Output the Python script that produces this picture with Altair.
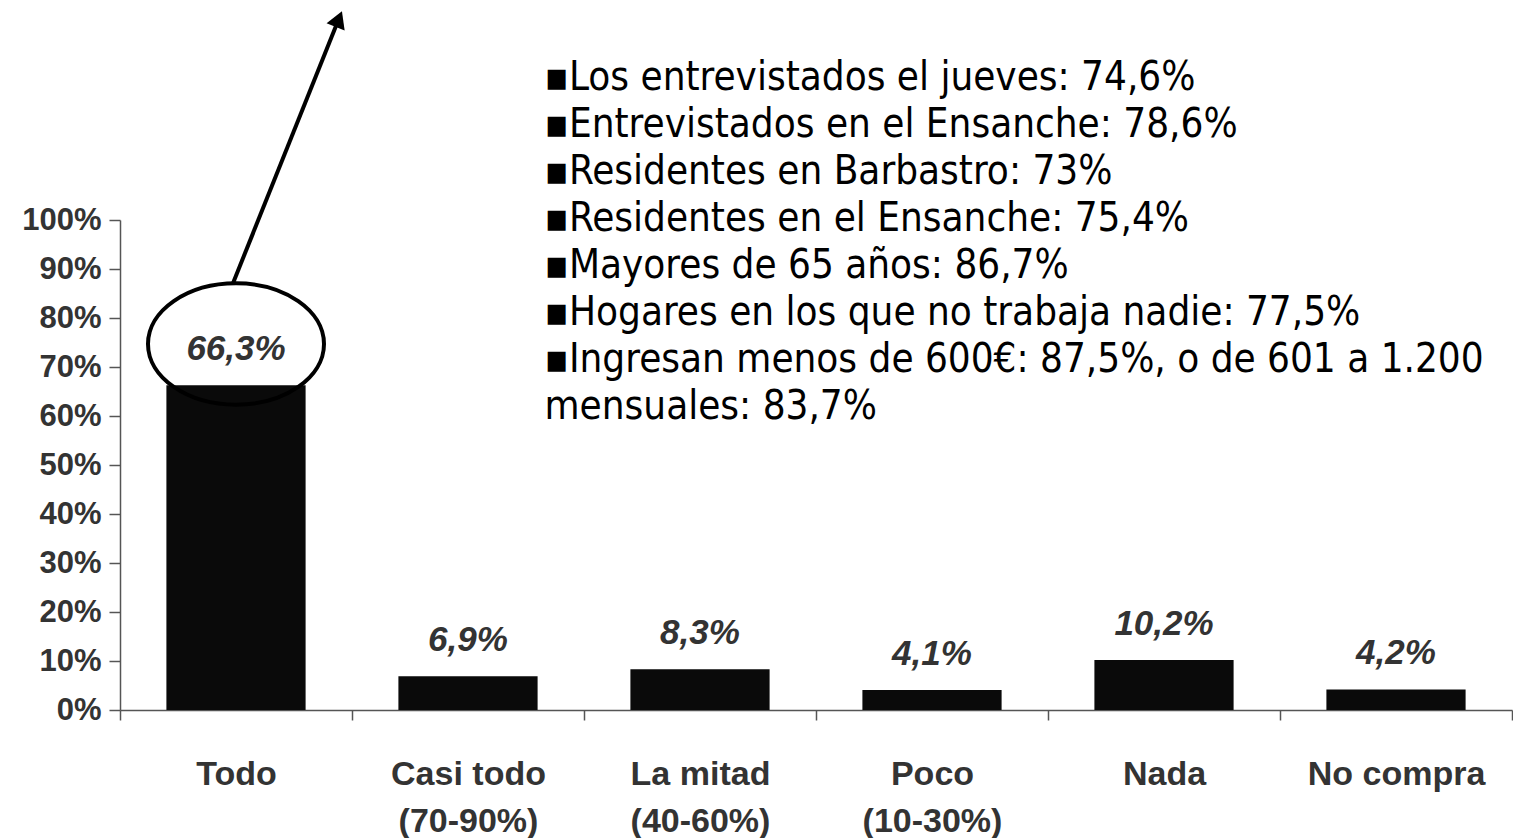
import altair as alt
import pandas as pd

# ---- data ----
categories = ["Todo", "Casi todo (70-90%)", "La mitad (40-60%)", "Poco (10-30%)", "Nada", "No compra"]
values = [0.663, 0.069, 0.083, 0.041, 0.102, 0.042]
y_ticks = [0, 0.1, 0.2, 0.3, 0.4, 0.5, 0.6, 0.7, 0.8, 0.9, 1.0]
notes = [
    "\u25aaLos entrevistados el jueves: 74,6%",
    "\u25aaEntrevistados en el Ensanche: 78,6%",
    "\u25aaResidentes en Barbastro: 73%",
    "\u25aaResidentes en el Ensanche: 75,4%",
    "\u25aaMayores de 65 años: 86,7%",
    "\u25aaHogares en los que no trabaja nadie: 77,5%",
    "\u25aaIngresan menos de 600€: 87,5%, o de 601 a 1.200",
    "mensuales: 83,7%",
]

df = pd.DataFrame({"cat": categories, "val": values})
one = pd.DataFrame({"k": [0]})

xscale = alt.Scale(domain=categories, paddingInner=0, paddingOuter=0)
yscale = alt.Scale(domain=[0, 1])

label_expr = (
    "length(split(datum.value, ' (')) > 1 ? "
    "[split(datum.value, ' (')[0], '(' + split(datum.value, ' (')[1]] : datum.value"
)

x_enc = alt.X(
    "cat:N",
    scale=xscale,
    title=None,
    axis=alt.Axis(
        labelAngle=0,
        tickBand="extent",
        labelExpr=label_expr,
        labelFontSize=34,
        labelLineHeight=47,
        labelPadding=37,
        tickSize=10,
        labelFont="Liberation Sans",
        labelFontWeight="bold",
        labelColor="#333333",
        domainColor="#555555",
        tickColor="#555555",
        domainWidth=1.5,
        tickWidth=1.5,
    ),
)
y_enc = alt.Y(
    "val:Q",
    scale=yscale,
    title=None,
    axis=alt.Axis(
        values=y_ticks,
        format=".0%",
        grid=False,
        labelFontSize=31,
        labelPadding=8,
        tickSize=11,
        labelFont="Liberation Sans",
        labelFontWeight="bold",
        labelColor="#333333",
        domainColor="#555555",
        tickColor="#555555",
        domainWidth=1.5,
        tickWidth=1.5,
    ),
)

bars = alt.Chart(df).mark_bar(
    color="#0a0a0a", width=alt.RelativeBandSize(0.6)
).encode(x=x_enc, y=y_enc)

labels = alt.Chart(df).mark_text(
    baseline="alphabetic", dy=-25, font="Liberation Sans", fontSize=35,
    fontWeight="bold", fontStyle="italic", color="#333333"
).encode(
    x=alt.X("cat:N", scale=xscale),
    y=alt.Y("val:Q", scale=yscale),
    text=alt.Text("val:Q", format=".1%"),
)

ellipse_path = "M-1,0A1,0.69,0,1,0,1,0A1,0.69,0,1,0,-1,0Z"
ellipse = alt.Chart(one).mark_point(
    shape=ellipse_path, size=30976, filled=False, stroke="black",
    strokeWidth=4, opacity=1
).encode(
    x=alt.X(datum="Todo", type="nominal", scale=xscale, bandPosition=0.5),
    y=alt.Y(datum=0.747, type="quantitative", scale=yscale),
)

arrow_line = alt.Chart(one).mark_rule(color="black", strokeWidth=4).encode(
    x=alt.X(datum="Todo", type="nominal", scale=xscale, bandPosition=0.487),
    x2=alt.X2(datum="Todo", bandPosition=0.943),
    y=alt.Y(datum=0.871, type="quantitative", scale=yscale),
    y2=alt.Y2(datum=1.41),
)

arrow_head = alt.Chart(one).mark_point(
    shape="triangle-up", size=380, filled=True, color="black", opacity=1, angle=22
).encode(
    x=alt.X(datum="Todo", type="nominal", scale=xscale, bandPosition=0.943),
    y=alt.Y(datum=1.41, type="quantitative", scale=yscale),
)

note_text = alt.Chart(one).mark_text(
    text=notes, align="left", baseline="top", lineHeight=47,
    font="Liberation Sans Narrow, DejaVu Sans Condensed, sans-serif",
    fontSize=40, color="black"
).encode(
    x=alt.X(datum="Casi todo (70-90%)", type="nominal", scale=xscale, bandPosition=0.83),
    y=alt.Y(datum=1.33, type="quantitative", scale=yscale),
)

chart = alt.layer(bars, ellipse, labels, arrow_line, arrow_head, note_text).properties(
    width=1392, height=490,
    padding={"left": 13, "top": 3, "right": 0, "bottom": 0},
).configure(
    locale={"number": {"decimal": ",", "thousands": ".", "grouping": [3], "currency": ["", "\u20ac"]}}
).configure_view(stroke=None)

chart.save("out.html", embed_options={"renderer": "svg", "actions": False})
